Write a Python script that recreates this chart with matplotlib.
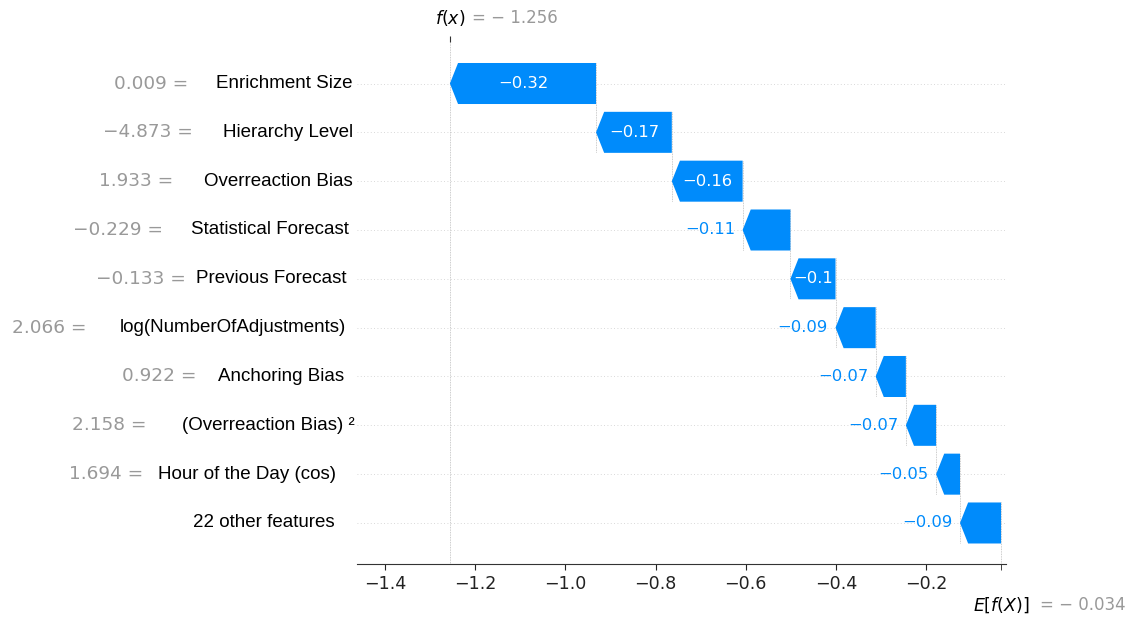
import matplotlib.pyplot as plt
from matplotlib.patches import Polygon

# waterfall data, top row first
features = ["Enrichment Size", "Hierarchy Level", "Overreaction Bias",
            "Statistical Forecast", "Previous Forecast", "log(NumberOfAdjustments)",
            "Anchoring Bias", "(Overreaction Bias) \u00b2", "Hour of the Day (cos)",
            "22 other features"]
feature_values = [0.009, -4.873, 1.933, -0.229, -0.133, 2.066, 0.922, 2.158, 1.694, None]
shap_values = [-0.324, -0.168, -0.157, -0.106, -0.100, -0.089, -0.067, -0.067, -0.053, -0.091]
base_value = -0.034
fx = -1.256
xticks = [-1.4, -1.2, -1.0, -0.8, -0.6, -0.4, -0.2]

# where the labels sit (right edge, figure pixels) -- the picture is hand edited
name_right = [352, 353, 353, 349, 346, 346, 344, 355, 336, 335]
value_right = [188, 193, 173, 163, 186, 86, 196, 147, 143, None]

blue = "#008bfb"
grey = "#999999"

fig = plt.figure(figsize=(11.31, 6.19), dpi=100)
ax = fig.add_axes([357/1131, 1-564/619, 649/1131, 522/619])
ax.set_xlim(-1.462, -0.023)
ax.set_ylim(-0.84, 9.85)

n = len(features)
bar_h = 0.84
hl = 0.018

fig.canvas.draw()
renderer = fig.canvas.get_renderer()

start = base_value
for i in range(n - 1, -1, -1):
    y = n - 1 - i
    v = shap_values[i]
    end = start + v
    h = min(hl, abs(v))
    pts = [(start, y + bar_h/2), (end + h, y + bar_h/2), (end, y),
           (end + h, y - bar_h/2), (start, y - bar_h/2)]
    ax.add_patch(Polygon(pts, closed=True, facecolor=blue, edgecolor="none", zorder=3))

    # dotted connector at the bar's start
    ax.plot([start, start], [y + 0.42, y - 1 - 0.42], color="#bbbbbb", lw=0.6,
            linestyle="--", dashes=(1, 1), zorder=1)

    lab = ("%.2f" % v).rstrip("0").rstrip(".").replace("-", "\u2212")
    t = ax.text((start + end)/2, y, lab, ha="center", va="center", color="white",
                fontsize=11.8, zorder=4)
    tw = t.get_window_extent(renderer).width
    bw = abs(ax.transData.transform((end, 0))[0] - ax.transData.transform((start, 0))[0])
    if tw > bw - 2:
        t.remove()
        ax.annotate(lab, xy=(end, y), xytext=(-5.5, 0), textcoords="offset points",
                    ha="right", va="center", color=blue, fontsize=11.8)
    start = end

    ax.axhline(y, color="#cccccc", lw=0.6, dashes=(1, 3), zorder=0)

    ax.annotate(features[i], xy=(name_right[i], y), xycoords=("figure pixels", "data"),
                ha="right", va="center", fontsize=13.5, family="Liberation Sans",
                color="black")
    if feature_values[i] is not None:
        s = ("%.3f =" % feature_values[i]).replace("-", "\u2212")
        ax.annotate(s, xy=(value_right[i], y), xycoords=("figure pixels", "data"),
                    ha="right", va="center", fontsize=13.3, color=grey)

ax.axvline(fx, color="#bbbbbb", lw=0.6, linestyle="--", dashes=(1, 1), zorder=1)

for side in ["left", "top", "right"]:
    ax.spines[side].set_visible(False)
ax.spines["bottom"].set_color("#333333")
ax.set_yticks([])
ax.set_xticks(xticks)
ax.set_xticklabels([("%.1f" % t).replace("-", "\u2212") for t in xticks])
ax.set_xticks([base_value], minor=True)
ax.tick_params(axis="x", which="both", labelsize=12.6, colors="#222222", length=4.5)

ax2 = ax.twiny()
ax2.set_xlim(ax.get_xlim())
ax2.set_xticks([fx])
ax2.set_xticklabels([""])
ax2.tick_params(axis="x", length=4, color="#333333")
for side in ax2.spines:
    ax2.spines[side].set_visible(False)

# f(x) and E[f(X)] labels
ax.annotate("$f(x)$", xy=(fx, 1), xycoords=("data", "axes fraction"),
            xytext=(0, 17), textcoords="offset points", ha="center", va="center",
            fontsize=12.5, color="black")
ax.annotate("= \u2212 %.3f" % abs(fx), xy=(fx, 1), xycoords=("data", "axes fraction"),
            xytext=(16, 17), textcoords="offset points", ha="left", va="center",
            fontsize=12, color=grey)
ax.annotate("$E[f(X)]$", xy=(base_value, 0), xycoords=("data", "axes fraction"),
            xytext=(0, -29.5), textcoords="offset points", ha="center", va="center",
            fontsize=12.5, color="black")
ax.annotate("= \u2212 %.3f" % abs(base_value), xy=(base_value, 0),
            xycoords=("data", "axes fraction"),
            xytext=(28, -29.5), textcoords="offset points", ha="left", va="center",
            fontsize=12, color=grey)

fig.savefig("out.png", dpi=100)
